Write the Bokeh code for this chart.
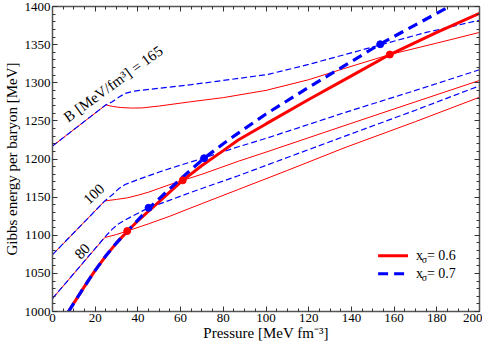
from bokeh.plotting import figure
from bokeh.models import Range1d, LinearAxis, SingleIntervalTicker, CustomJSTickFormatter
from bokeh.core.properties import value
from bokeh.embed import file_html
from bokeh.resources import INLINE

# ---- data ----
thick06_P = [7.5, 10, 15, 20, 25, 30, 35, 40, 45, 50, 55, 61, 70, 80, 87, 100, 120, 140, 158, 180, 200]
thick06_G = [1000, 1011, 1033, 1054, 1073, 1090, 1105, 1119, 1131.5, 1144, 1157, 1172, 1191.5, 1211, 1225, 1246, 1278, 1309, 1337, 1366, 1391]

thick07_P = [7.5, 10, 15, 20, 25, 30, 35, 40, 45, 50, 60, 71, 80, 87, 100, 120, 136, 153, 170, 186, 200]
thick07_G = [1000, 1011, 1033, 1054, 1073, 1090, 1105, 1120, 1135, 1148, 1174, 1201, 1220, 1234, 1259, 1294, 1321, 1350, 1376, 1400, 1420]

b165_red_P = [0, 25, 28, 32, 37, 42, 50, 64.5, 80, 100, 120, 137, 158, 180, 200]
b165_red_G = [1217, 1271, 1269, 1267.5, 1266.8, 1267, 1269.5, 1275, 1280.5, 1290, 1304, 1319, 1337, 1352, 1366]
b165_blue_P = [0, 25, 28, 31, 34, 38, 46, 65, 80, 101, 120, 137, 154, 175, 200]
b165_blue_G = [1217, 1271, 1275, 1281, 1286, 1289, 1291.5, 1297.5, 1303, 1311, 1324, 1337, 1350, 1366, 1382]

b100_red_P = [0, 24.5, 30, 35, 40, 45, 50, 55, 61, 70, 87, 100, 137, 170, 200]
b100_red_G = [1074.5, 1145, 1147, 1149, 1152.5, 1156.5, 1161.5, 1166.5, 1172, 1180, 1197, 1209, 1244, 1275, 1303]
b100_blue_P = [0, 24.5, 28, 31, 34, 40, 50, 60, 71, 87, 100, 137, 170, 200]
b100_blue_G = [1074.5, 1145, 1153, 1161, 1166.5, 1173, 1183, 1192, 1201.5, 1216, 1227, 1261, 1290, 1317]

b80_red_P = [0, 24.5, 30, 35, 45, 55, 64.5, 87, 110, 137, 170, 200]
b80_red_G = [1017, 1097, 1101, 1105.5, 1115, 1125, 1135.5, 1160, 1185, 1215, 1249, 1281]
b80_blue_P = [0, 24.5, 28, 31, 34, 38, 45, 55, 64.5, 87, 110, 137, 170, 200]
b80_blue_G = [1017, 1097.5, 1108, 1115, 1120, 1126, 1136, 1146, 1156, 1178, 1202, 1230, 1264, 1296]

dots_red_P = [35, 61, 158]
dots_red_G = [1105.5, 1172, 1337]
dots_blue_P = [45, 71, 153.5]
dots_blue_G = [1136, 1201, 1350.5]

x_ticks_interval = 20
y_ticks_interval = 50

RED = "#ff0000"
BLUE = "#0000ff"
FONT = "Liberation Serif"

p = figure(width=482, height=343, output_backend="svg", toolbar_location=None,
           x_range=Range1d(0, 200), y_range=Range1d(1000, 1400),
           x_axis_location=None, y_axis_location=None,
           min_border_left=0, min_border_right=3, min_border_top=6, min_border_bottom=0)
p.grid.visible = False
p.outline_line_color = None
p.background_fill_color = "white"


def style_axis(ax, labels=True):
    ax.axis_line_color = "#555555"
    ax.axis_line_width = 1.5
    ax.major_tick_in = 5
    ax.major_tick_out = 0
    ax.minor_tick_in = 3
    ax.minor_tick_out = 0
    ax.major_tick_line_color = "#333333"
    ax.minor_tick_line_color = "#333333"
    ax.major_label_text_font = FONT
    ax.major_label_text_font_size = "13px"
    ax.major_label_text_color = "black"
    ax.major_label_text_line_height = 1.0
    ax.major_label_standoff = 2
    ax.axis_label_text_font = FONT
    ax.axis_label_text_font_size = "15px"
    ax.axis_label_text_font_style = "normal"
    ax.axis_label_text_color = "black"
    ax.axis_label_text_line_height = 1.0
    ax.axis_label_standoff = 0
    if not labels:
        ax.formatter = CustomJSTickFormatter(code="return ''")
        ax.major_label_standoff = 0


xt = lambda: SingleIntervalTicker(interval=x_ticks_interval, num_minor_ticks=4)
yt = lambda: SingleIntervalTicker(interval=y_ticks_interval, num_minor_ticks=5)

ax_b = LinearAxis(ticker=xt(), axis_label="Pressure [MeV fm⁻³]")
style_axis(ax_b)
p.add_layout(ax_b, "below")
ax_l = LinearAxis(ticker=yt(), axis_label="Gibbs energy per baryon [MeV]")
style_axis(ax_l)
ax_l.axis_label_standoff = 2
p.add_layout(ax_l, "left")
ax_t = LinearAxis(ticker=xt())
style_axis(ax_t, labels=False)
p.add_layout(ax_t, "above")
ax_r = LinearAxis(ticker=yt())
style_axis(ax_r, labels=False)
p.add_layout(ax_r, "right")

# thin curves: red solid first, blue dashed on top
for rp, rg, bp, bg in [(b165_red_P, b165_red_G, b165_blue_P, b165_blue_G),
                       (b100_red_P, b100_red_G, b100_blue_P, b100_blue_G),
                       (b80_red_P, b80_red_G, b80_blue_P, b80_blue_G)]:
    p.line(rp, rg, line_color=RED, line_width=1)
    p.line(bp, bg, line_color=BLUE, line_width=1.2, line_dash="6 3")

# thick curves
p.line(thick06_P, thick06_G, line_color=RED, line_width=3)
p.line(thick07_P, thick07_G, line_color=BLUE, line_width=3.2, line_dash="10 6")

p.scatter(dots_red_P, dots_red_G, size=7, color=RED)
p.scatter(dots_blue_P, dots_blue_G, size=7, color=BLUE)

# curve labels
p.text(x=[6.0], y=[1253], text=["B [MeV/fm³] = 165"], angle=36, angle_units="deg",
       text_font=value(FONT), text_font_size="15px", text_color="black",
       text_align="left", text_baseline="alphabetic")
p.text(x=[15.5], y=[1144], text=["100"], angle=43, angle_units="deg",
       text_font=value(FONT), text_font_size="15px", text_color="black",
       text_align="left", text_baseline="alphabetic")
p.text(x=[11.5], y=[1072], text=["80"], angle=46, angle_units="deg",
       text_font=value(FONT), text_font_size="15px", text_color="black",
       text_align="left", text_baseline="alphabetic")

# legend (manual, to allow the sigma subscript)
p.line([152.5, 166.5], [1073, 1073], line_color=RED, line_width=3)
p.line([152.5, 166.5], [1049.5, 1049.5], line_color=BLUE, line_width=3.2, line_dash="10 6")
for g, lab in [(1073, "= 0.6"), (1049.5, "= 0.7")]:
    p.text(x=[170.3], y=[g], text=["x"], text_font=value(FONT), text_font_size="14px",
           text_color="black", text_align="left", text_baseline="middle")
    p.text(x=[172.9], y=[g - 4.5], text=["σ"], text_font=value(FONT), text_font_size="10px",
           text_color="black", text_align="left", text_baseline="middle")
    p.text(x=[175.4], y=[g + 0.5], text=[lab], text_font=value(FONT), text_font_size="14px",
           text_color="black", text_align="left", text_baseline="middle")

open("out.html", "w").write(file_html(p, INLINE))
